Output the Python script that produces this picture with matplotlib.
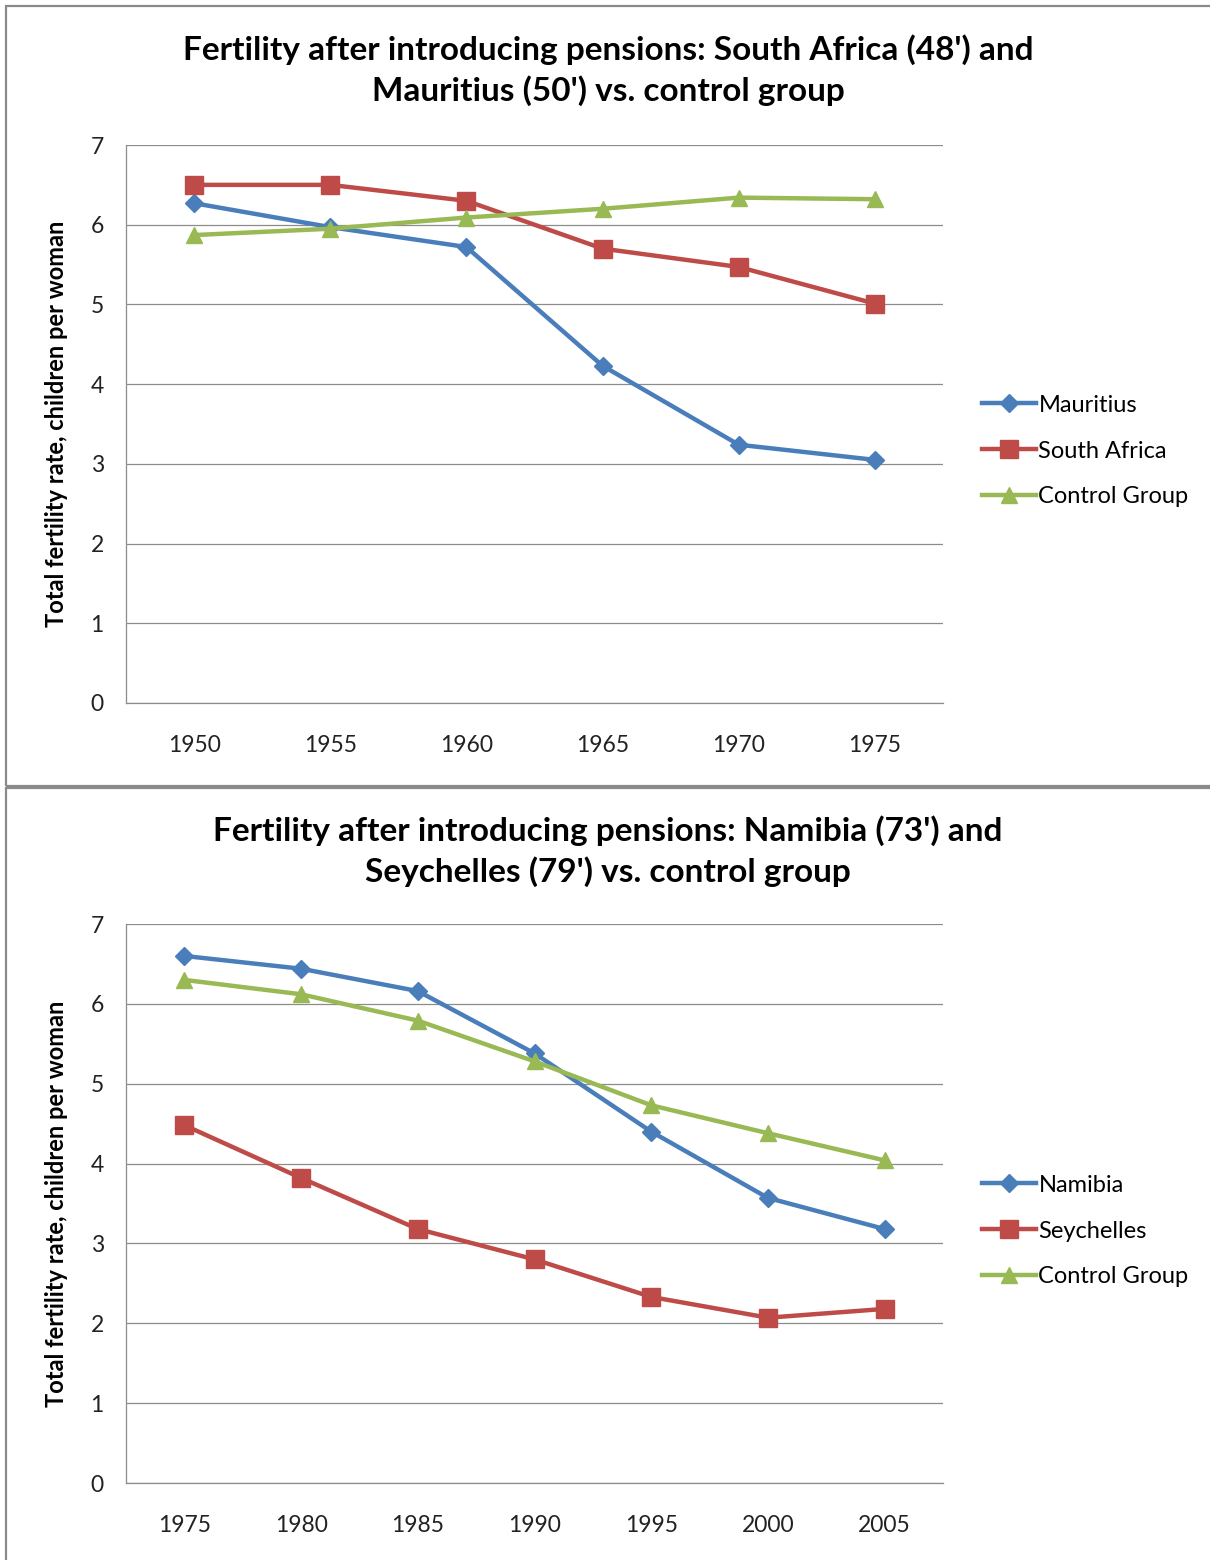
import matplotlib
matplotlib.use("Agg")
import matplotlib.pyplot as plt
from matplotlib.patches import Rectangle

plt.rcParams['font.family'] = ['Lato', 'DejaVu Sans']

# Panel 1: 1950-1975
years_a = ['1950', '1955', '1960', '1965', '1970', '1975']
mauritius = [6.27, 5.97, 5.72, 4.23, 3.24, 3.05]
south_africa = [6.50, 6.50, 6.30, 5.70, 5.47, 5.01]
control_a = [5.87, 5.95, 6.09, 6.20, 6.34, 6.32]

# Panel 2: 1975-2005
years_b = ['1975', '1980', '1985', '1990', '1995', '2000', '2005']
namibia = [6.60, 6.44, 6.16, 5.38, 4.40, 3.57, 3.18]
seychelles = [4.48, 3.82, 3.18, 2.80, 2.33, 2.07, 2.18]
control_b = [6.30, 6.12, 5.79, 5.28, 4.73, 4.38, 4.04]

titles = ["Fertility after introducing pensions: South Africa (48') and\nMauritius (50') vs. control group",
          "Fertility after introducing pensions: Namibia (73') and\nSeychelles (79') vs. control group"]
ylabel = "Total fertility rate, children per woman"

BLUE = '#4A7EBB'
RED = '#BE4B48'
GREEN = '#98B954'
GRID = '#8c8c8c'

W, H = 1210, 1560
fig = plt.figure(figsize=(W / 100, H / 100), dpi=100)


def fx(px):
    return px / W


def fy(py):
    return 1 - py / H


# panel frames
fig.patches.append(Rectangle((fx(6), fy(786)), fx(1220), fy(6) - fy(786),
                             transform=fig.transFigure, fill=False,
                             edgecolor='#8a8a8a', lw=1.6, zorder=0))
fig.patches.append(Rectangle((fx(6), fy(1580)), fx(1220), fy(788) - fy(1580),
                             transform=fig.transFigure, fill=False,
                             edgecolor='#8a8a8a', lw=1.6, zorder=0))


def draw_panel(top_px, bottom_px, cats, series, title, title_y, label_y, legend_y):
    ax = fig.add_axes([fx(126), fy(bottom_px), fx(943) - fx(126), fy(top_px) - fy(bottom_px)])
    x = list(range(len(cats)))
    markers = ['D', 's', '^']
    sizes = [9, 12.5, 12]
    colors = [BLUE, RED, GREEN]
    for (name, vals), m, ms, c in zip(series, markers, sizes, colors):
        ax.plot(x, vals, color=c, lw=3.2, marker=m, markersize=ms,
                markeredgecolor=c, label=name, zorder=3)
    ax.set_xlim(-0.5, len(cats) - 0.5)
    ax.set_ylim(0, 7)
    ax.set_yticks(range(0, 8))
    ax.set_xticks(x)
    ax.set_xticklabels(cats)
    ax.yaxis.grid(True, color=GRID, lw=0.9)
    ax.set_axisbelow(True)
    for s in ['top', 'right']:
        ax.spines[s].set_visible(False)
    for s in ['left', 'bottom']:
        ax.spines[s].set_color(GRID)
        ax.spines[s].set_linewidth(0.9)
    ax.tick_params(axis='y', length=0, pad=16, labelsize=16.5, labelcolor='#222222')
    ax.tick_params(axis='x', length=0, pad=23, labelsize=16.5, labelcolor='#222222')
    fig.text(fx(608), fy(title_y), title, ha='center', va='center',
             fontsize=24, fontweight='bold', linespacing=1.38)
    fig.text(fx(57), fy(label_y), ylabel, ha='center', va='center', rotation=90,
             fontsize=17, fontweight='bold')
    ax.legend(loc='center left', bbox_to_anchor=(fx(973), fy(legend_y)),
              bbox_transform=fig.transFigure, frameon=False, fontsize=17,
              handlelength=2.25, handletextpad=0.12, labelspacing=1.05,
              borderaxespad=0)
    return ax


draw_panel(145, 703, years_a,
           [('Mauritius', mauritius), ('South Africa', south_africa), ('Control Group', control_a)],
           titles[0], 70, 424, 451)
draw_panel(924, 1483, years_b,
           [('Namibia', namibia), ('Seychelles', seychelles), ('Control Group', control_b)],
           titles[1], 851, 1204, 1231)

fig.savefig('out.png', dpi=100)
